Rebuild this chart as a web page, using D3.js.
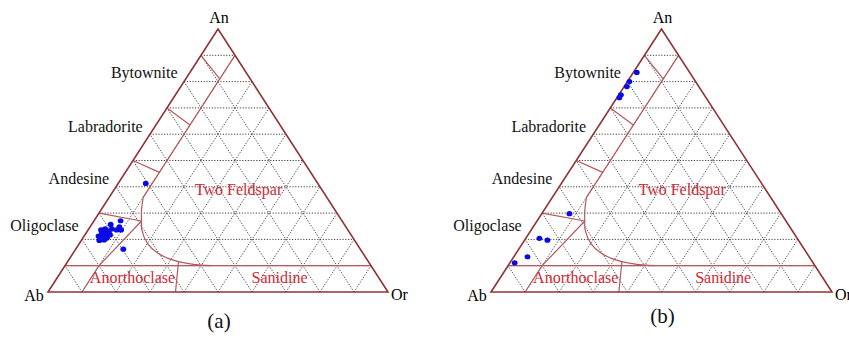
<!DOCTYPE html>
<html>
<head>
<meta charset="utf-8">
<script src="https://cdn.jsdelivr.net/npm/d3@7"></script>
<style>
  body { margin: 0; background: #fff; }
  text { font-family: "Liberation Serif", "Times New Roman", serif; }
</style>
</head>
<body>
<div id="chart"></div>
<script>
var svgWidth = 849;
var svgHeight = 338;

// ---- data (percent) ----
var vertexNames = ["Ab", "An", "Or"];
var plagNames = ["Bytownite", "Labradorite", "Andesine", "Oligoclase"];
var fieldNames = ["Two Feldspar", "Anorthoclase", "Sanidine"];
var panelNames = ["(a)", "(b)"];
var gridTicks = [10, 20, 30, 40, 50, 60, 70, 80, 90];

// samples of panel (a): [An, Or]
var samplesA = [
  [41.3, 8.1], [25.7, 5.6], [27.1, 7.8], [24.8, 8.6], [23.6, 8.4], [23.6, 9.7],
  [23.6, 3.8], [24.0, 4.8], [23.2, 6.3], [21.7, 5.1], [22.1, 6.0], [21.7, 7.4],
  [20.5, 5.9], [20.5, 7.1], [19.8, 6.6], [24.0, 6.8], [22.8, 4.4], [21.3, 4.2],
  [22.6, 5.4], [21.0, 6.3], [19.6, 5.3], [20.8, 4.8], [16.3, 14.0]
];
// samples of panel (b): [An, Or]
var samplesB = [
  [83.5, 1.0], [80.0, 0.6], [78.1, 0.8], [75.0, 0.6], [73.9, 0.7],
  [29.8, 8.1], [20.4, 4.0], [19.7, 6.7], [13.4, 4.0], [11.1, 1.4]
];

// field boundaries: [An, Or]
var orTenLine = [[90, 10], [36, 10]];
var twoFeldsparCurve = [[36, 10], [31, 12], [27, 14], [23.6, 15.8], [18.5, 20], [14.7, 25],
  [12.2, 30.5], [10.6, 37], [10, 43]];
var anTenLine = [[10, 0], [10, 90]];
var anorthoclaseLeft = [[0, 10], [10, 10], [27, 14]];
var anorthoclaseRight = [[0, 37.5], [11.8, 32.5]];
var plagDividers = [
  [[90, 0], [81, 10]],
  [[70, 0], [63.5, 10]],
  [[50, 0], [45.5, 10]],
  [[30, 0], [27, 14]]
];

// ---- layout ----
var panels = [
  { x0: 48, x1: 388, samples: samplesA, name: panelNames[0], nameY: 328 },
  { x0: 491, x1: 832, samples: samplesB, name: panelNames[1], nameY: 323 }
];
var yTop = 29;
var yBase = 292;
var plagLabelAn = [81.5, 61, 41.2, 23.3];
var fieldLabelPos = [[36.9, 37.6], [3.3, 23.2], [3.4, 66.4]];

var outlineColor = "#8e3336";
var boundaryColor = "#b45a5c";
var fieldColor = "#cf2a36";

var svg = d3.select("#chart")
  .append("svg")
  .attr("width", svgWidth)
  .attr("height", svgHeight);

panels.forEach(function (p) {
  var xScale = d3.scaleLinear().domain([0, 100]).range([p.x0, p.x1]);
  var yScale = d3.scaleLinear().domain([0, 100]).range([yBase, yTop]);

  // ternary point [An, Or] -> pixel
  function pt(d) {
    return [xScale(d[1] + d[0] / 2), yScale(d[0])];
  }
  var line = d3.line().x(d => pt(d)[0]).y(d => pt(d)[1]);
  var curve = d3.line().x(d => pt(d)[0]).y(d => pt(d)[1]).curve(d3.curveCatmullRom.alpha(0.5));

  var g = svg.append("g");

  // dotted grid, three families
  var gridLines = [];
  gridTicks.forEach(function (k) {
    gridLines.push([[k, 0], [k, 100 - k]]);      // constant An
    gridLines.push([[0, k], [100 - k, k]]);      // constant Or
    gridLines.push([[0, 100 - k], [100 - k, 0]]); // constant Ab
  });
  g.selectAll(".grid")
    .data(gridLines)
    .enter()
    .append("path")
    .attr("class", "grid")
    .attr("d", line)
    .attr("fill", "none")
    .attr("stroke", "#2a2a2a")
    .attr("stroke-width", 0.9)
    .attr("stroke-dasharray", "1.2,1.6");

  // field boundaries
  var straight = [orTenLine, anTenLine, anorthoclaseLeft, anorthoclaseRight].concat(plagDividers);
  g.selectAll(".bound")
    .data(straight)
    .enter()
    .append("path")
    .attr("class", "bound")
    .attr("d", line)
    .attr("fill", "none")
    .attr("stroke", boundaryColor)
    .attr("stroke-width", 1.2);

  g.append("path")
    .attr("d", curve(twoFeldsparCurve))
    .attr("fill", "none")
    .attr("stroke", boundaryColor)
    .attr("stroke-width", 1.2);

  // triangle outline
  g.append("path")
    .attr("d", line([[0, 0], [0, 100], [100, 0], [0, 0]]) + "Z")
    .attr("fill", "none")
    .attr("stroke", outlineColor)
    .attr("stroke-width", 1.6)
    .attr("stroke-linejoin", "miter");

  // field labels
  g.selectAll(".field")
    .data(fieldNames)
    .enter()
    .append("text")
    .attr("class", "field")
    .attr("x", (d, i) => pt(fieldLabelPos[i])[0])
    .attr("y", (d, i) => pt(fieldLabelPos[i])[1])
    .attr("text-anchor", "middle")
    .attr("font-size", "16px")
    .attr("fill", fieldColor)
    .text(d => d);

  // plagioclase labels, right aligned left of the Ab-An edge
  g.selectAll(".plag")
    .data(plagNames)
    .enter()
    .append("text")
    .attr("class", "plag")
    .attr("x", (d, i) => pt([plagLabelAn[i], 0])[0] - 9)
    .attr("y", (d, i) => pt([plagLabelAn[i], 0])[1])
    .attr("text-anchor", "end")
    .attr("font-size", "16px")
    .attr("fill", "#111")
    .text(d => d);

  // vertex labels
  var ab = pt([0, 0]), an = pt([100, 0]), or = pt([0, 100]);
  g.append("text").attr("x", ab[0] - 14).attr("y", ab[1] + 9)
    .attr("text-anchor", "middle").attr("font-size", "16px").text(vertexNames[0]);
  g.append("text").attr("x", an[0] + 1).attr("y", an[1] - 6)
    .attr("text-anchor", "middle").attr("font-size", "16px").text(vertexNames[1]);
  g.append("text").attr("x", or[0] + 3).attr("y", or[1] + 8)
    .attr("text-anchor", "start").attr("font-size", "16px").text(vertexNames[2]);

  // samples
  g.selectAll(".sample")
    .data(p.samples)
    .enter()
    .append("ellipse")
    .attr("class", "sample")
    .attr("cx", d => pt(d)[0])
    .attr("cy", d => pt(d)[1])
    .attr("rx", 2.9)
    .attr("ry", 2.6)
    .attr("fill", "#0a0ae6");

  // panel caption
  g.append("text")
    .attr("x", an[0] + 1)
    .attr("y", p.nameY)
    .attr("text-anchor", "middle")
    .attr("font-size", "21px")
    .attr("fill", "#111")
    .text(p.name);
});
</script>
</body>
</html>
